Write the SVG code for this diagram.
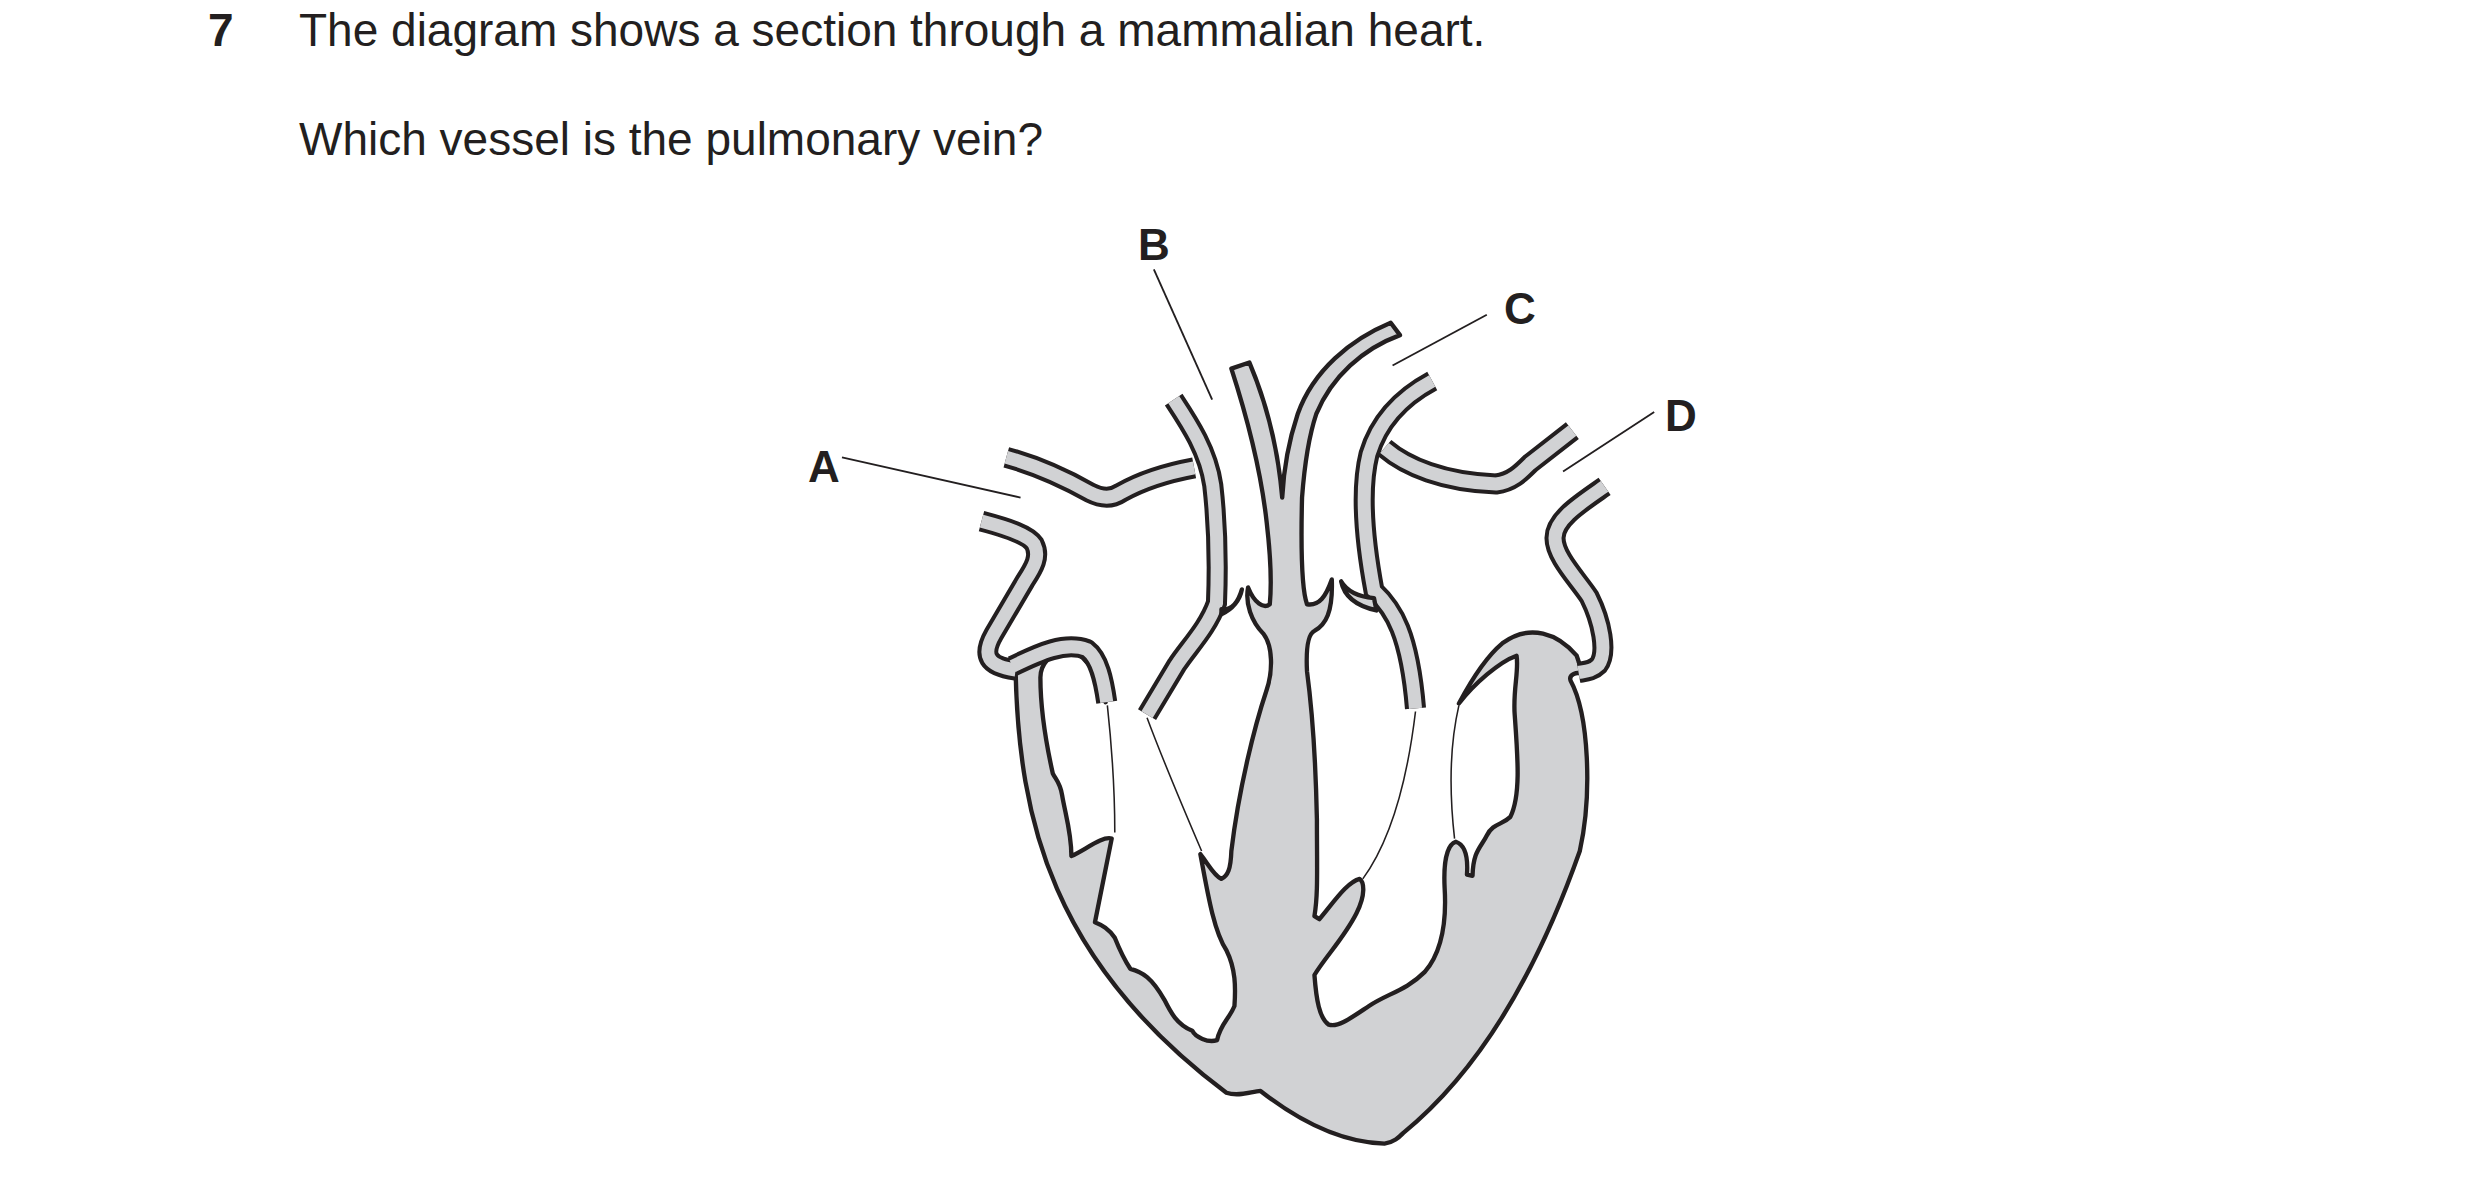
<svg xmlns="http://www.w3.org/2000/svg" width="2480" height="1195" viewBox="0 0 2480 1195">
<style>
.t{font-family:"Liberation Sans",Arial,sans-serif;font-size:46px;fill:#231f20}
.lb{font-family:"Liberation Sans",Arial,sans-serif;font-size:44px;font-weight:bold;fill:#231f20}
.body{fill:#d1d2d4;stroke:#231f20;stroke-width:7;stroke-linejoin:round}
.bo{fill:none;stroke:#231f20;stroke-width:34}
.bi{fill:none;stroke:#d1d2d4;stroke-width:21}
.th{fill:none;stroke:#231f20;stroke-width:2.5}
.ld{fill:none;stroke:#231f20;stroke-width:3}
</style>
<rect width="2480" height="1195" fill="#fff"/>
<text class="t" x="208" y="46" font-weight="bold">7</text>
<text class="t" x="299" y="46">The diagram shows a section through a mammalian heart.</text>
<text class="t" x="299" y="155">Which vessel is the pulmonary vein?</text>
<g transform="translate(780,200) scale(0.62)">
<g id="heart">
<path class="body" d="M380,760 C385,1000 440,1230 720,1440 C740,1447 760,1438 775,1437 C830,1480 900,1520 975,1522 C990,1520 998,1512 1005,1505 C1140,1395 1230,1220 1290,1050 C1310,960 1305,830 1275,775 C1272,765 1285,760 1295,765 L1285,735 C1255,700 1210,682 1165,715 C1135,740 1112,780 1095,812 C1120,780 1160,745 1188,735 C1192,760 1182,790 1185,830 C1190,900 1195,960 1178,995 C1165,1008 1150,1005 1140,1025 C1130,1045 1118,1050 1117,1090 L1108,1088 C1110,1060 1105,1040 1090,1035 C1075,1040 1070,1070 1072,1110 C1075,1160 1070,1210 1040,1245 C1010,1275 980,1280 950,1300 C920,1320 900,1335 885,1330 C870,1320 865,1290 862,1250 C880,1220 910,1190 930,1150 C945,1120 942,1100 935,1095 C915,1100 895,1130 870,1160 L862,1155 C868,1120 866,1080 866,1000 C864,900 858,820 850,760 C848,720 852,700 862,695 C880,685 892,665 890,612 C880,640 870,655 850,652 C842,630 840,560 842,480 C845,440 850,390 865,345 C890,285 940,240 1000,218 L985,198 C920,225 860,275 835,345 C820,390 812,440 810,480 C805,420 790,340 757,262 L728,272 C750,340 775,430 785,520 C792,580 793,620 790,652 C780,660 765,650 755,625 C750,650 760,680 780,700 C795,720 795,760 785,790 C765,850 740,950 728,1050 C727,1080 722,1090 712,1095 C700,1090 690,1070 678,1055 C690,1120 700,1180 720,1210 C735,1240 735,1270 733,1300 C725,1320 710,1330 705,1355 C690,1360 670,1350 665,1340 C640,1330 630,1310 620,1290 C600,1255 585,1245 565,1240 C555,1225 548,1210 540,1190 C530,1175 520,1170 508,1165 L535,1030 C520,1025 490,1050 470,1058 C470,1020 460,990 455,960 C452,940 445,935 440,925 C430,880 420,820 420,770 C420,750 435,730 460,728 C490,725 510,760 525,810 L500,722 L430,718 Z"/>
</g>
<g id="vessels">
<path class="bo" d="M365,415 C420,430 470,455 500,472 C520,482 535,482 550,472 C585,452 625,440 668,432"/>
<path class="bo" d="M635,322 C660,360 690,405 698,460 C706,530 706,600 704,650 C690,690 660,720 640,750 L592,830"/>
<path class="bo" d="M325,518 C370,530 400,540 410,555 C420,575 410,592 395,615 L345,700 C325,735 335,752 380,758"/>
<path class="bo" d="M375,752 C420,730 460,712 495,725 C515,740 522,775 527,810"/>
<path class="bo" d="M1052,292 C1000,320 965,360 950,410 C935,470 945,560 958,630 C990,660 1015,700 1025,820"/>
<path class="bo" d="M975,400 C1010,430 1070,455 1155,458 C1180,455 1195,440 1210,425 L1278,372"/>
<path class="bo" d="M1330,462 C1290,490 1250,515 1250,545 C1250,575 1285,610 1305,640 C1325,680 1335,730 1320,750 C1310,760 1300,760 1288,762"/>
<path class="bi" d="M365,415 C420,430 470,455 500,472 C520,482 535,482 550,472 C585,452 625,440 668,432"/>
<path class="bi" d="M635,322 C660,360 690,405 698,460 C706,530 706,600 704,650 C690,690 660,720 640,750 L592,830"/>
<path class="bi" d="M325,518 C370,530 400,540 410,555 C420,575 410,592 395,615 L345,700 C325,735 335,752 380,758"/>
<path class="bi" d="M375,752 C420,730 460,712 495,725 C515,740 522,775 527,810"/>
<path class="bi" d="M1052,292 C1000,320 965,360 950,410 C935,470 945,560 958,630 C990,660 1015,700 1025,820"/>
<path class="bi" d="M975,400 C1010,430 1070,455 1155,458 C1180,455 1195,440 1210,425 L1278,372"/>
<path class="bi" d="M1330,462 C1290,490 1250,515 1250,545 C1250,575 1285,610 1305,640 C1325,680 1335,730 1320,750 C1310,760 1300,760 1288,762"/>
<path class="body" d="M712,668 C730,660 742,645 745,628 C738,652 726,662 712,660 Z"/>
<path class="body" d="M905,615 C910,640 930,655 962,662 L958,642 C935,640 915,632 905,615 Z"/>
</g>
<g id="connectors">
<path class="th" d="M528,815 C535,880 540,960 540,1020"/>
<path class="th" d="M592,835 C620,910 650,980 680,1050"/>
<path class="th" d="M1025,825 C1010,950 980,1040 940,1095"/>
<path class="th" d="M1095,815 C1080,880 1080,960 1088,1030"/>
<path class="ld" d="M100,415 L388,480"/>
<path class="ld" d="M603,112 L697,322"/>
<path class="ld" d="M1140,185 L988,267"/>
<path class="ld" d="M1410,342 L1263,438"/>
</g>
</g>
<g id="labels">
<text class="lb" x="824" y="482" text-anchor="middle">A</text>
<text class="lb" x="1154" y="260" text-anchor="middle">B</text>
<text class="lb" x="1520" y="324" text-anchor="middle">C</text>
<text class="lb" x="1681" y="431" text-anchor="middle">D</text>
</g>
</svg>
